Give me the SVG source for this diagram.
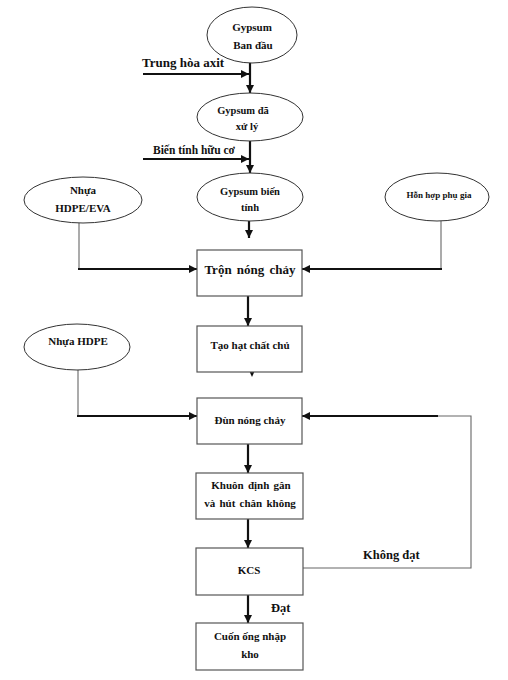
<svg xmlns="http://www.w3.org/2000/svg" width="508" height="680" viewBox="0 0 508 680">
<style>
text{font-family:"Liberation Serif","Times New Roman",serif;font-weight:bold;fill:#111;text-anchor:middle}
.el{fill:#fff;stroke:#333;stroke-width:1}
.bx{fill:#fff;stroke:#555;stroke-width:1.2}
.th{fill:none;stroke:#111;stroke-width:2.2}
.tn{fill:none;stroke:#666;stroke-width:1.1}
.s11{font-size:11px}
.s10{font-size:10.5px}
.lab{font-size:12.5px;text-anchor:start}
</style>
<defs>
<marker id="ah" markerUnits="userSpaceOnUse" markerWidth="9" markerHeight="8" refX="8" refY="4" orient="auto">
<path d="M0,0 L8,4 L0,8 Z" fill="#111"/>
</marker>
</defs>
<rect width="508" height="680" fill="#fff"/>
<g id="connectors">
<line class="th" x1="250" y1="63" x2="250" y2="93" marker-end="url(#ah)"/>
<line class="th" x1="143" y1="74" x2="249" y2="74" marker-end="url(#ah)"/>
<line class="th" x1="250" y1="141" x2="250" y2="173" marker-end="url(#ah)"/>
<line class="th" x1="143" y1="159" x2="249" y2="159" marker-end="url(#ah)"/>
<line class="th" x1="249" y1="221" x2="249" y2="238" marker-end="url(#ah)"/>
<polyline class="tn" points="79,223 79,269"/>
<line class="th" x1="78" y1="269" x2="197" y2="269" marker-end="url(#ah)"/>
<polyline class="tn" points="441,221 441,269"/>
<line class="th" x1="442" y1="269" x2="302" y2="269" marker-end="url(#ah)"/>
<line class="th" x1="248" y1="296" x2="248" y2="326" marker-end="url(#ah)"/>
<path d="M249.5,371.5 L254.5,371.5 L252,377 Z" fill="#111"/>
<polyline class="tn" points="78,370 78,416"/>
<line class="th" x1="77" y1="416" x2="197" y2="416" marker-end="url(#ah)"/>
<polyline class="tn" points="303,568 471,568 471,416 436,416"/>
<line class="th" x1="438" y1="416" x2="302" y2="416" marker-end="url(#ah)"/>
<line class="th" x1="248" y1="444" x2="248" y2="473" marker-end="url(#ah)"/>
<line class="th" x1="248" y1="519" x2="248" y2="548" marker-end="url(#ah)"/>
<line class="th" x1="248" y1="595" x2="248" y2="623" marker-end="url(#ah)"/>
<text class="lab" x="142" y="67" style="font-size:13px">Trung  hòa axit</text>
<text class="lab" x="153" y="154" style="font-size:11.5px">Biến tính hữu cơ</text>
<text class="lab" x="363" y="559">Không đạt</text>
<text class="lab" x="271" y="612">Đạt</text>
</g>
<g id="gypsum-ban-dau">
<ellipse class="el" cx="252" cy="35" rx="45" ry="28"/>
<text class="s11" x="252" y="31">Gypsum</text>
<text class="s11" x="253" y="49">Ban đầu</text>
</g>
<g id="gypsum-da-xu-ly">
<ellipse class="el" cx="250" cy="117" rx="53" ry="24"/>
<text class="s10" x="243" y="114">Gypsum đã</text>
<text class="s10" x="247" y="130">xử lý</text>
</g>
<g id="gypsum-bien-tinh">
<ellipse class="el" cx="250" cy="197" rx="53" ry="24"/>
<text class="s10" x="250" y="195">Gypsum biến</text>
<text class="s10" x="250" y="211">tính</text>
</g>
<g id="nhua-hdpe-eva">
<ellipse class="el" cx="83" cy="200" rx="59" ry="23"/>
<text class="s11" x="83" y="194">Nhựa</text>
<text class="s11" x="83" y="212">HDPE/EVA</text>
</g>
<g id="hon-hop-phu-gia">
<ellipse class="el" cx="437" cy="197" rx="52" ry="24"/>
<text x="439" y="198" style="font-size:9px">Hỗn hợp phụ gia</text>
</g>
<g id="tron-nong-chay">
<rect class="bx" x="197" y="250" width="105" height="46"/>
<text x="250" y="274" style="font-size:13px;word-spacing:2px">Trộn nóng chảy</text>
</g>
<g id="tao-hat-chat-chu">
<rect class="bx" x="197" y="326" width="105" height="46"/>
<text class="s11" x="250" y="349">Tạo hạt chất chủ</text>
</g>
<g id="nhua-hdpe">
<ellipse class="el" cx="77" cy="347" rx="53" ry="23"/>
<text class="s11" x="78" y="345">Nhựa HDPE</text>
</g>
<g id="dun-nong-chay">
<rect class="bx" x="197" y="398" width="105" height="46"/>
<text class="s11" x="250" y="424">Đùn nóng chảy</text>
</g>
<g id="khuon-dinh-gan">
<rect class="bx" x="196" y="473" width="107" height="46"/>
<text class="s11" x="251" y="489" style="word-spacing:1.5px">Khuôn định gân</text>
<text class="s11" x="250" y="507" style="word-spacing:1.5px">và hút chân không</text>
</g>
<g id="kcs">
<rect class="bx" x="196" y="548" width="107" height="47"/>
<text class="s11" x="249" y="574">KCS</text>
</g>
<g id="cuon-ong">
<rect class="bx" x="196" y="623" width="107" height="47"/>
<text class="s11" x="250" y="640">Cuốn ống nhập</text>
<text class="s11" x="250" y="658">kho</text>
</g>
</svg>
